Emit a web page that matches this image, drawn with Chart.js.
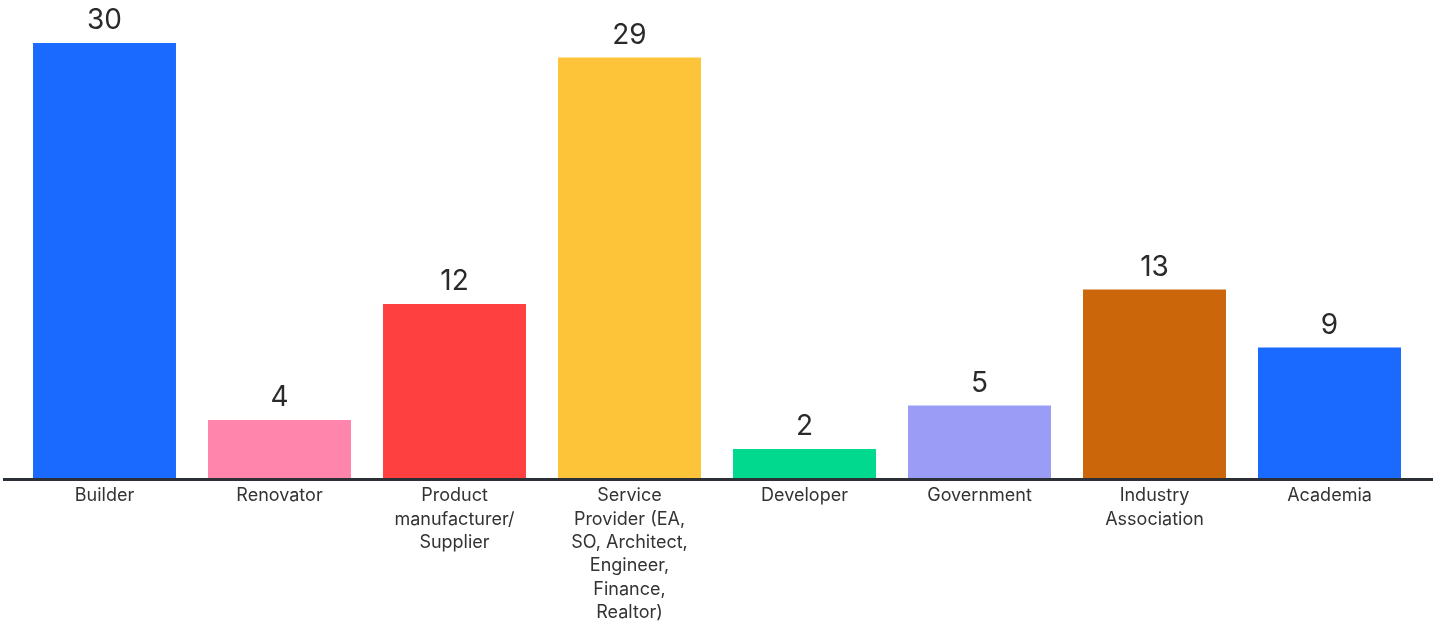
<!DOCTYPE html>
<html>
<head>
<meta charset="utf-8">
<script src="https://cdn.jsdelivr.net/npm/chart.js@4/dist/chart.umd.min.js"></script>
<style>
  html, body { margin: 0; padding: 0; background: #fff; }
  #wrap { width: 1433px; height: 626px; position: relative; }
</style>
</head>
<body>
<div id="wrap"><canvas id="chart"></canvas></div>
<script>
const categories = [
  'Builder',
  'Renovator',
  ['Product', 'manufacturer/', 'Supplier'],
  ['Service', 'Provider (EA,', 'SO, Architect,', 'Engineer,', 'Finance,', 'Realtor)'],
  'Developer',
  'Government',
  ['Industry', 'Association'],
  'Academia'
]
const counts = [30, 4, 12, 29, 2, 5, 13, 9]
const barColors = ['#1a6aff', '#ff85ad', '#ff4040', '#fdc43a', '#00d98e', '#9a9cf5', '#cc660a', '#1a6aff']

const fontFamily = 'Inter, "Noto Sans", sans-serif'

// value labels over each bar
const valueLabels = {
  id: 'valueLabels',
  afterDatasetsDraw(chart) {
    const ctx = chart.ctx
    const meta = chart.getDatasetMeta(0)
    ctx.save()
    ctx.font = '28px ' + fontFamily
    ctx.fillStyle = '#2a2a2a'
    ctx.textAlign = 'center'
    ctx.textBaseline = 'bottom'
    meta.data.forEach((bar, i) => {
      ctx.fillText(counts[i], bar.x, bar.y - 8)
    })
    ctx.restore()
  }
}

// dark base line across the whole width
const baseLine = {
  id: 'baseLine',
  afterDatasetsDraw(chart) {
    const ctx = chart.ctx
    const y = chart.scales.y.getPixelForValue(0)
    ctx.save()
    ctx.fillStyle = '#2b2f36'
    ctx.fillRect(3, y, chart.width - 3, 3)
    ctx.restore()
  }
}

new Chart(document.getElementById('chart'), {
  type: 'bar',
  data: {
    labels: categories,
    datasets: [{
      data: counts,
      backgroundColor: barColors,
      borderWidth: 0,
      barPercentage: 0.817,
      categoryPercentage: 1
    }]
  },
  options: {
    responsive: true,
    maintainAspectRatio: false,
    animation: false,
    layout: { padding: { top: 43, left: 17, right: 16, bottom: 0 } },
    plugins: {
      legend: { display: false },
      tooltip: { enabled: false }
    },
    scales: {
      x: {
        grid: { display: false, drawTicks: false },
        border: { display: false },
        ticks: {
          color: '#333',
          font: { family: fontFamily, size: 18, lineHeight: 1.3 },
          padding: 6,
          maxRotation: 0,
          autoSkip: false
        },
        afterFit(scale) { scale.height = 148 }
      },
      y: {
        display: false,
        min: 0,
        max: 30
      }
    }
  },
  plugins: [valueLabels, baseLine]
})
</script>
</body>
</html>
